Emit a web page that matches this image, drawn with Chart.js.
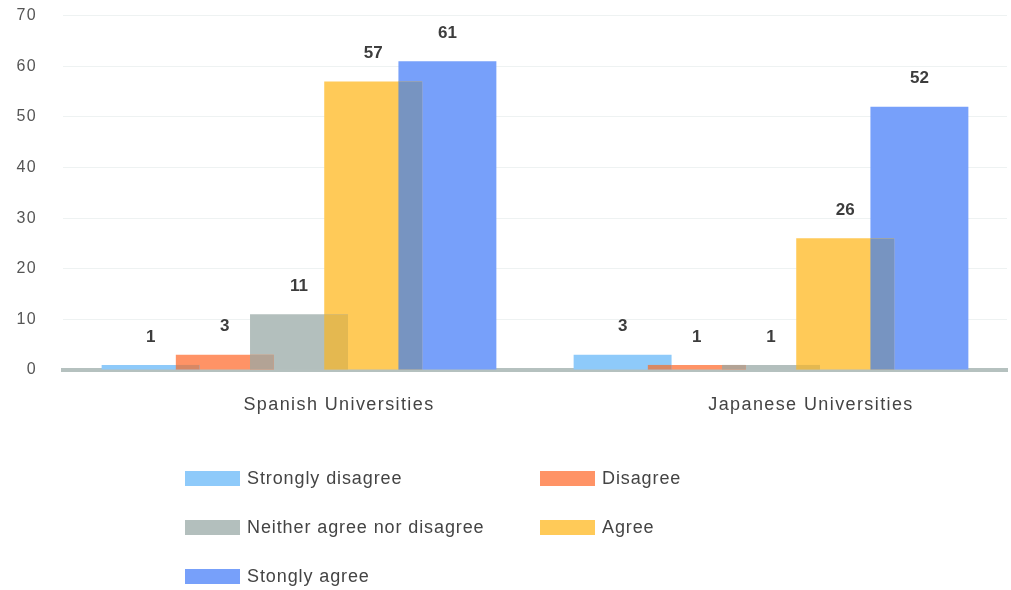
<!DOCTYPE html>
<html>
<head>
<meta charset="utf-8">
<script src="https://cdn.jsdelivr.net/npm/chart.js@4/dist/chart.umd.min.js"></script>
<style>
  body { margin: 0; background: #fff; font-family: "Liberation Sans", Arial, sans-serif; overflow: hidden; }
  #wrap { position: relative; width: 1011px; height: 590px; overflow: hidden; }
  #chart { position: absolute; left: 0; top: -20px; }
  .item { position: absolute; display: flex; align-items: center; height: 22px;
          font-size: 18px; color: #444; letter-spacing: 0.9px; white-space: nowrap; }
  .sw { width: 55px; height: 15px; margin-right: 7px; }
</style>
</head>
<body>
<div id="wrap">
  <canvas id="chart" width="1011" height="610"></canvas>
  <div id="legend"></div>
</div>
<script>
// data
const categories = ["Spanish Universities", "Japanese Universities"];
const seriesNames = ["Strongly disagree", "Disagree", "Neither agree nor disagree", "Agree", "Stongly agree"];
const stronglyDisagree = [1, 3];
const disagree = [3, 1];
const neither = [11, 1];
const agree = [57, 26];
const stronglyAgree = [61, 52];
const yMin = 0, yMax = 70, yStep = 10;

const barColors = ["#8ecafa", "#ff9366", "#b3bfbd", "#ffca58", "#77a0fa"];
const legendSpots = [[185, 467], [540, 467], [185, 516], [540, 516], [185, 565]];

const series = [stronglyDisagree, disagree, neither, agree, stronglyAgree];

const hexRgb = (h) => [1, 3, 5].map((i) => parseInt(h.substr(i, 2), 16));

// colour where a bar runs into its right-hand neighbour
const blend = (top, bottom) => {
    const t = hexRgb(top), b = hexRgb(bottom);
    const c = b.map((v, k) => Math.round(v * (0.65 * 255 + 0.35 * t[k]) / 255));
    return `rgb(${c[0]},${c[1]},${c[2]})`;
};

const overlapShade = {
    id: "overlapShade",
    afterDatasetsDraw(chart) {
        const ctx = chart.ctx;
        ctx.save();
        for (let i = 0; i < chart.data.datasets.length - 1; i++) {
            const left = chart.getDatasetMeta(i).data;
            const right = chart.getDatasetMeta(i + 1).data;
            ctx.fillStyle = blend(barColors[i], barColors[i + 1]);
            left.forEach((a, j) => {
                const b = right[j];
                const x0 = b.x - b.width / 2, x1 = a.x + a.width / 2;
                const top = Math.max(a.y, b.y), bottom = a.base;
                if (x1 > x0 && bottom > top) ctx.fillRect(x0, top, x1 - x0, bottom - top);
            });
        }
        ctx.restore();
    }
};

const valueLabels = {
    id: "valueLabels",
    afterDatasetsDraw(chart) {
        const ctx = chart.ctx;
        ctx.save();
        ctx.letterSpacing = "0px";
        ctx.font = 'bold 17px "Liberation Sans", Arial, sans-serif';
        ctx.fillStyle = "#3d3d3d";
        ctx.textAlign = "center";
        ctx.textBaseline = "middle";
        chart.data.datasets.forEach((ds, i) => {
            chart.getDatasetMeta(i).data.forEach((bar, j) => {
                ctx.fillText(ds.data[j], bar.x, bar.y - 28);
            });
        });
        ctx.restore();
    }
};

const spacing = {
    id: "spacing",
    beforeDraw(chart) { chart.ctx.letterSpacing = "1.4px"; }
};

const data = {
    labels: categories,
    datasets: series.map((values, i) => ({
        label: seriesNames[i],
        data: values,
        backgroundColor: barColors[i],
        borderWidth: 0,
        barPercentage: 1.32,
        categoryPercentage: 0.786
    }))
};

const config = {
    type: "bar",
    data: data,
    options: {
        responsive: false,
        animation: false,
        devicePixelRatio: 1,
        layout: { padding: { top: 6, right: 4, left: 0, bottom: 0 } },
        scales: {
            x: {
                z: 1,
                grid: { display: false, drawTicks: false },
                border: { color: "#b5c1bf", width: 4 },
                ticks: {
                    color: "#444",
                    font: { size: 18, family: '"Liberation Sans", Arial, sans-serif' },
                    padding: 24,
                    labelOffset: 40,
                    maxRotation: 0
                },
                afterFit: (scale) => { scale.height = 220; }
            },
            y: {
                min: yMin,
                max: yMax,
                grid: { color: "#eef2f2", drawTicks: false },
                border: { display: false },
                ticks: {
                    stepSize: yStep,
                    color: "#555",
                    font: { size: 16, family: '"Liberation Sans", Arial, sans-serif' },
                    padding: 26
                },
                afterFit: (scale) => { scale.width = 63; }
            }
        },
        plugins: {
            legend: { display: false },
            tooltip: { enabled: false }
        }
    },
    plugins: [spacing, overlapShade, valueLabels]
};

var ctx_bar = document.getElementById("chart");
var bar_chart = new Chart(ctx_bar, config);

const legendBlock = document.getElementById("legend");
seriesNames.forEach((name, i) => {
    const item = document.createElement("div");
    item.className = "item";
    item.style.left = legendSpots[i][0] + "px";
    item.style.top = legendSpots[i][1] + "px";
    item.innerHTML = `<span class="sw" style="background:${barColors[i]}"></span>${name}`;
    legendBlock.appendChild(item);
});
</script>
</body>
</html>
